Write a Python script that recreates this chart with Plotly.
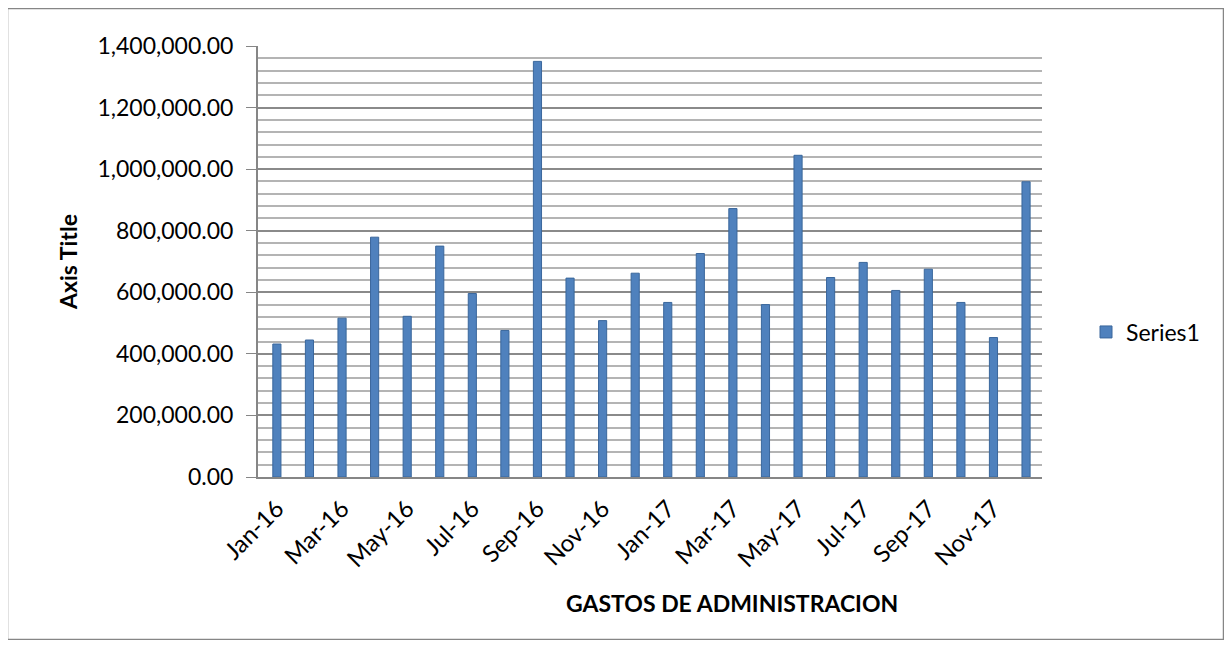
import plotly.graph_objects as go

months = ["Jan-16", "Feb-16", "Mar-16", "Apr-16", "May-16", "Jun-16",
          "Jul-16", "Aug-16", "Sep-16", "Oct-16", "Nov-16", "Dec-16",
          "Jan-17", "Feb-17", "Mar-17", "Apr-17", "May-17", "Jun-17",
          "Jul-17", "Aug-17", "Sep-17", "Oct-17", "Nov-17", "Dec-17"]
values = [432000, 445000, 516000, 779000, 522000, 750000,
          596000, 476000, 1350000, 646000, 508000, 662000,
          567000, 726000, 872000, 560000, 1045000, 648000,
          697000, 606000, 675000, 567000, 453000, 959000]
shown_ticks = months[::2]
y_ticks = [0, 200000, 400000, 600000, 800000, 1000000, 1200000, 1400000]
y_labels = [f"{v:,.2f}" for v in y_ticks]

FONT = "Lato"
OFF = 8  # page offset of the figure (body margin)
W, H = 1216, 632
L = 258 - OFF
R = W - (1042 - OFF)
T = 46 - OFF
B = H - (477 - OFF)
pw, ph = W - L - R, H - T - B

def px(x):
    return (x - OFF - L) / pw

def py(y):
    return (H - B - (y - OFF)) / ph

fig = go.Figure()
fig.add_trace(go.Bar(
    x=months, y=values, name="Series1", width=0.25,
    marker=dict(color="#4F81BD", line=dict(color="#3A679C", width=1)),
    showlegend=True,
))

fig.update_layout(
    width=W, height=H,
    margin=dict(l=L, r=R, t=T, b=B),
    paper_bgcolor="white", plot_bgcolor="white",
    font=dict(family=FONT, color="black"),
    legend=dict(x=px(1086), y=py(332), xanchor="left", yanchor="middle",
                font=dict(size=23, family=FONT), itemwidth=30),
    xaxis=dict(
        type="category", tickmode="array", tickvals=shown_ticks, ticktext=shown_ticks,
        tickangle=-45, tickfont=dict(size=24, family=FONT),
        showline=True, linecolor="#868686", linewidth=2,
        ticks="", showgrid=False, automargin=False, ticklabelstandoff=6,
        range=[-0.58, 23.49],
    ),
    yaxis=dict(
        range=[0, 1400000], tickmode="array", tickvals=y_ticks, ticktext=y_labels,
        tickfont=dict(size=23, family=FONT),
        showline=True, linecolor="#868686", linewidth=2,
        ticks="outside", ticklen=10, tickcolor="#868686", ticklabelstandoff=8,
        showgrid=True, gridcolor="#8A8A8A", gridwidth=2,
        minor=dict(dtick=40000, tick0=0, showgrid=True, gridcolor="#B4B4B4", gridwidth=1.5),
        zeroline=False, automargin=False,
    ),
    annotations=[
        dict(text="<b>Axis Title</b>", x=px(68), y=py(262), xref="paper", yref="paper",
             xanchor="center", yanchor="middle",
             textangle=-90, showarrow=False, font=dict(size=23, family=FONT)),
        dict(text="<b>GASTOS DE ADMINISTRACION</b>", x=px(732), y=py(603),
             xref="paper", yref="paper", xanchor="center", yanchor="middle",
             showarrow=False, font=dict(size=23, family=FONT)),
    ],
    shapes=[
        dict(type="rect", xref="paper", yref="paper",
             x0=px(7.5), x1=px(1223.5), y0=py(639.5), y1=py(8.5),
             line=dict(color="#868686", width=1.5), fillcolor="rgba(0,0,0,0)", layer="below"),
    ],
)

fig.write_html("out.html")
